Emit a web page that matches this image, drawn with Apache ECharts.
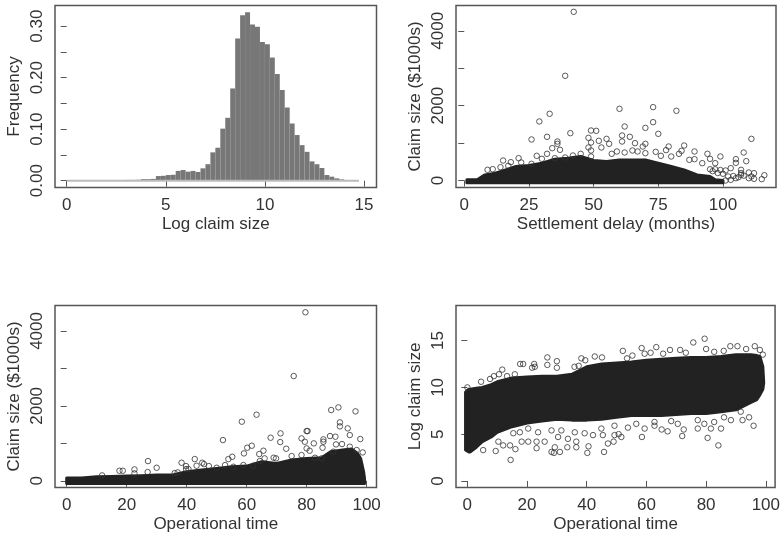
<!DOCTYPE html>
<html>
<head>
<meta charset="utf-8">
<style>html,body{margin:0;padding:0;background:#fff}#chart{width:783px;height:537px}</style>
<script src="https://cdn.jsdelivr.net/npm/echarts@6/dist/echarts.min.js"></script>
</head>
<body>
<div id="chart"></div>
<script>
// histogram of log claim size, bins are 0.25 wide
var histStart = [3, 3.25, 3.5, 3.75, 4, 4.25, 4.5, 4.75, 5, 5.25, 5.5, 5.75, 6, 6.25, 6.5, 6.75, 7, 7.25, 7.5, 7.75, 8, 8.25, 8.5, 8.75, 9, 9.25, 9.5, 9.75, 10, 10.25, 10.5, 10.75, 11, 11.25, 11.5, 11.75, 12, 12.25, 12.5, 12.75, 13, 13.25, 13.5, 13.75, 14, 14.25, 14.5];
var histFreq = [0.0015, 0.0015, 0.0018, 0.003, 0.003, 0.0035, 0.009, 0.0095, 0.011, 0.0115, 0.019, 0.0207, 0.0175, 0.019, 0.017, 0.024, 0.032, 0.055, 0.064, 0.101, 0.122, 0.179, 0.276, 0.321, 0.327, 0.303, 0.299, 0.269, 0.265, 0.239, 0.207, 0.176, 0.142, 0.111, 0.0886, 0.069, 0.056, 0.0375, 0.032, 0.0246, 0.011, 0.0078, 0.0045, 0.0026, 0.001, 0.0008, 0.0005];
var histBaseX = [0, 14.75];
var histBaseY = [0, 0];

// settlement delay vs claim size
var delayMassX = [1, 5, 8, 12, 16, 20, 25, 30, 35, 40, 45, 50, 55, 60, 65, 70, 75, 80, 85, 90, 95, 97, 100];
var delayMassTop = [18, 18, 150, 196, 285, 374, 400, 463, 570, 597, 641, 535, 510, 550, 550, 550, 463, 374, 285, 150, 107, 18, 0];
var delayMassBottom = [-60, -60];
var delayPoints = [[42.3,4507],[39,2797],[33,1782],[29,1577],[60,1915],[73,1960],[73,1559],[70,1407],[82,1862],[62,1443],[75,1247],[49,1336],[51,1327],[41,1265],[32,1167],[26,1096],[48,1140],[49,1015],[52,1060],[55,1113],[56,980],[53,882],[48,882],[49,802],[61,1203],[61,1042],[64,1167],[66,998],[69,908],[70,980],[79,908],[78,811],[85,935],[84,793],[89,775],[94,713],[99,641],[95,579],[108,748],[105,570],[105,472],[109,517],[111,1113],[116,142],[115,36],[36,1042],[36,980],[34,864],[37,820],[28,659],[32,713],[15,534],[18,490],[21,597],[17,392],[9,285],[11,303],[14,356],[22,481],[26,445],[30,579],[35,597],[39,615],[42,668],[45,713],[49,641],[57,713],[59,775],[62,748],[65,802],[67,775],[70,730],[74,766],[76,659],[80,641],[83,713],[87,552],[89,570],[92,463],[97,463],[103,330],[101,267],[107,285],[110,214],[112,196],[107,151],[111,107],[102,107],[105,62],[103,18],[101,0],[110,62],[112,45],[95,300],[96,250],[97,300],[98,200],[99,280],[100,180],[104,120],[106,90],[107,200],[108,130]];

// operational time vs claim size
var timeMassX = [0, 5, 10, 15, 20, 25, 30, 35, 40, 45, 50, 55, 60, 65, 70, 75, 80, 85, 88, 92, 95, 97, 98, 99, 99.3];
var timeMassTop = [71, 71, 107, 116, 125, 134, 151, 151, 241, 285, 330, 374, 392, 508, 463, 552, 597, 615, 775, 820, 846, 730, 597, 241, 62];
var timeMassBottom = [-70, -70];
var timePoints = [[79.6,4499],[75.7,2797],[63.3,1764],[58.4,1577],[52.1,1087],[88.2,1889],[90.6,1960],[96.3,1853],[91.1,1559],[91.1,1452],[93.7,1399],[94.4,1220],[97.9,1114],[71.3,1265],[68,1149],[71.2,1033],[73.2,855],[80,1327],[80.3,1327],[78.3,1131],[79.4,1042],[87.8,1194],[89.6,1176],[91.8,980],[89.8,971],[85.6,1105],[85.6,1042],[85.3,882],[82.4,998],[80,864],[81,802],[61.7,935],[60.2,882],[59.1,730],[65.6,802],[64.2,713],[64.4,526],[66,597],[69,615],[69.8,597],[55.2,641],[53.9,579],[42.7,579],[38.3,481],[27.1,526],[30,347],[27,232],[22.6,303],[22.6,196],[17.6,267],[18.7,267],[11.8,143],[36,205],[37,223],[39.8,392],[39.8,312],[40.6,312],[43.3,401],[45.2,481],[45.8,445],[47.4,392],[50,347],[52.8,419],[55.6,374],[58.9,419],[62.2,401],[75,659],[78.3,686],[82.8,615],[85,597],[88.9,775],[94.4,909],[98.7,757],[96.7,820]];

// operational time vs log claim size
var logMassX = [-0.6, 0.5, 1, 3, 5, 8, 10, 15, 20, 25, 30, 35, 40, 45, 50, 55, 60, 65, 70, 75, 80, 85, 90, 95, 97, 98, 99, 99.3];
var logMassTop = [9.5, 9.8, 9.8, 9.9, 10, 10.3, 10.6, 11, 11.1, 11.2, 11.2, 11.4, 12.2, 12.5, 12.6, 12.7, 12.9, 13, 13.1, 13.2, 13.2, 13.3, 13.5, 13.5, 13.4, 13.3, 12.2, 10.5];
var logMassBottom = [3.3, 3.1, 3.1, 3.6, 4.2, 4.7, 5.2, 5.8, 6.2, 6.4, 6.6, 6.5, 6.5, 6.6, 6.8, 7, 7, 7, 7.1, 7.2, 7.2, 7.4, 7.6, 8.4, 8.7, 9.2, 9.8, 10.5];
var logPoints = [[0,10],[4.6,10.6],[7.6,10.9],[8.9,11.2],[10.6,11.4],[11.7,11.9],[13.3,11.2],[15.9,11.4],[17.7,12.5],[18.7,12.5],[21.7,12.1],[22.4,12.5],[22.6,12.2],[26.8,13.2],[26.8,12.4],[30,12.8],[30,12.1],[35.9,12.2],[37.3,12.3],[38.2,13.1],[39.5,12.9],[42.7,13.3],[45.1,13.2],[52.1,13.9],[53.5,13.1],[55.3,13.4],[58.4,14.2],[59.4,13.6],[61.4,13.7],[63.3,14.3],[65.6,13.6],[67.9,14],[71.3,14],[73.2,13.7],[75.7,14.8],[79.5,15.2],[80,14.1],[82.7,13.8],[85.9,13.9],[88.1,14.4],[90.5,14.4],[93.4,14.1],[96.3,14.4],[98,14],[99,13.5],[14.5,2.25],[9.5,3.2],[28.2,3.1],[29,3],[29.3,3.6],[31,3.1],[33.5,3.6],[36.5,3.6],[36.5,4.2],[40.2,3],[40.6,3.7],[45.8,3.1],[47.1,4],[49,4.2],[51.6,4.7],[58.5,4.7],[72,4.8],[80.5,4.6],[84.1,3.8],[81.6,5.6],[85,5.6],[77.2,5.6],[72.5,5.5],[67.1,5.3],[65.1,5.5],[62.7,5.9],[59.4,5.6],[53.8,5.7],[50.7,5],[49.3,4.9],[45.4,4.9],[42.1,4.9],[39.3,5.1],[36,5.2],[33.7,4.5],[30.4,4.7],[25.9,4.2],[23.2,3.5],[23.2,4.2],[20.4,4.2],[18.2,4.2],[16.1,3.4],[14.3,3.8],[12,3.8],[15.4,5.1],[10.4,4.2],[5.3,3.3],[20.4,5.6],[88.3,6.5],[92.2,6.5],[94.4,6.8],[95.9,5.9],[91.6,7.4],[86,6.8],[82.7,6.3],[79.4,6.1],[77.2,6.5],[70.5,6.1],[68.3,6.4],[62.7,6.3],[56.6,6.1],[49.3,5.9],[44.9,5.6],[31.5,5.4],[28.2,5.4],[23.7,5.2],[17.6,5.2]];

// ticks
var histXTicks = [0, 5, 10, 15];
var histYTicks = [0, 0.05, 0.1, 0.15, 0.2, 0.25, 0.3];
var histYLabels = [0, 0.1, 0.2, 0.3];
var delayXTicks = [0, 25, 50, 75, 100];
var sizeTicks = [0, 1000, 2000, 3000, 4000];
var sizeLabels = [0, 2000, 4000];
var timeTicks = [0, 20, 40, 60, 80, 100];
var logTicks = [0, 5, 10, 15];

var font = '"Liberation Sans", Arial, sans-serif';
var textColor = '#333';
var lineColor = '#555';
var fontSize = 17;

function makeAxis(idx, dir, name, min, max, ticks, labels, gap, fmt) {
  return {
    type: 'value', gridIndex: idx, min: min, max: max,
    name: name, nameLocation: 'middle', nameGap: gap,
    nameTextStyle: { fontFamily: font, fontSize: fontSize, color: textColor },
    splitLine: { show: false },
    axisLine: { show: false },
    axisTick: { show: true, length: 6, customValues: ticks, lineStyle: { color: lineColor, width: 1 } },
    axisLabel: {
      show: true, customValues: labels, margin: 9, rotate: dir === 'y' ? 90 : 0,
      fontFamily: font, fontSize: fontSize, color: textColor,
      formatter: fmt || function (v) { return String(v); }
    }
  };
}

function massSeries(idx, xs, top, bottom) {
  return {
    type: 'custom', xAxisIndex: idx, yAxisIndex: idx, data: [0], silent: true, z: 3,
    renderItem: function (params, api) {
      var pts = [], i;
      for (i = 0; i < xs.length; i++) pts.push(api.coord([xs[i], top[i]]));
      if (bottom.length === xs.length) {
        for (i = xs.length - 1; i >= 0; i--) pts.push(api.coord([xs[i], bottom[i]]));
      } else {
        pts.push(api.coord([xs[xs.length - 1], bottom[1]]));
        pts.push(api.coord([xs[0], bottom[0]]));
      }
      return { type: 'polygon', shape: { points: pts }, style: { fill: '#222', stroke: '#222', lineWidth: 3, lineJoin: 'round' } };
    }
  };
}

function pointSeries(idx, pts) {
  return {
    type: 'scatter', xAxisIndex: idx, yAxisIndex: idx, data: pts, z: 4, silent: true,
    symbol: 'circle', symbolSize: 5.5,
    itemStyle: { color: 'rgba(255,255,255,0)', borderColor: '#333', borderWidth: 1 }
  };
}

var grids = [
  { left: 55, top: 5.5, width: 321.5, height: 182 },
  { left: 456, top: 5.5, width: 320, height: 182 },
  { left: 55, top: 305.5, width: 321.5, height: 182 },
  { left: 456, top: 305.5, width: 320, height: 182 }
].map(function (g) {
  return Object.assign(g, { show: true, borderColor: lineColor, borderWidth: 1.5, backgroundColor: '#fff' });
});

var histData = histStart.map(function (s, i) { return [s, histFreq[i]]; });

var option = {
  animation: false,
  backgroundColor: '#fff',
  grid: grids,
  xAxis: [
    makeAxis(0, 'x', 'Log claim size', -0.59, 15.63, histXTicks, histXTicks, 28),
    makeAxis(1, 'x', 'Settlement delay (months)', -3.2, 120.5, delayXTicks, delayXTicks, 28),
    makeAxis(2, 'x', 'Operational time', -3.9, 103.3, timeTicks, timeTicks, 28),
    makeAxis(3, 'x', 'Operational time', -3.8, 103.1, timeTicks, timeTicks, 28)
  ],
  yAxis: [
    makeAxis(0, 'y', 'Frequency', -0.0132, 0.34, histYTicks, histYLabels, 32, function (v) { return v.toFixed(2); }),
    makeAxis(1, 'y', 'Claim size ($1000s)', -187, 4676, sizeTicks, sizeLabels, 32),
    makeAxis(2, 'y', 'Claim size ($1000s)', -180, 4680, sizeTicks, sizeLabels, 32),
    makeAxis(3, 'y', 'Log claim size', -0.7, 18.75, logTicks, logTicks, 32)
  ],
  series: [
    {
      type: 'custom', xAxisIndex: 0, yAxisIndex: 0, data: histData, silent: true, z: 2,
      renderItem: function (params, api) {
        var a = api.coord([api.value(0), api.value(1)]);
        var b = api.coord([api.value(0) + 0.25, 0]);
        return { type: 'rect', shape: { x: a[0], y: a[1], width: b[0] - a[0], height: b[1] - a[1] }, style: { fill: '#777' } };
      }
    },
    {
      type: 'line', xAxisIndex: 0, yAxisIndex: 0, silent: true, z: 3, symbol: 'none',
      data: histBaseX.map(function (x, i) { return [x, histBaseY[i]]; }),
      lineStyle: { color: '#bbb', width: 2 }
    },
    massSeries(1, delayMassX, delayMassTop, delayMassBottom),
    pointSeries(1, delayPoints),
    massSeries(2, timeMassX, timeMassTop, timeMassBottom),
    pointSeries(2, timePoints),
    massSeries(3, logMassX, logMassTop, logMassBottom),
    pointSeries(3, logPoints)
  ]
};

var myChart = echarts.init(document.getElementById('chart'));
myChart.setOption(option);
</script>
</body>
</html>
